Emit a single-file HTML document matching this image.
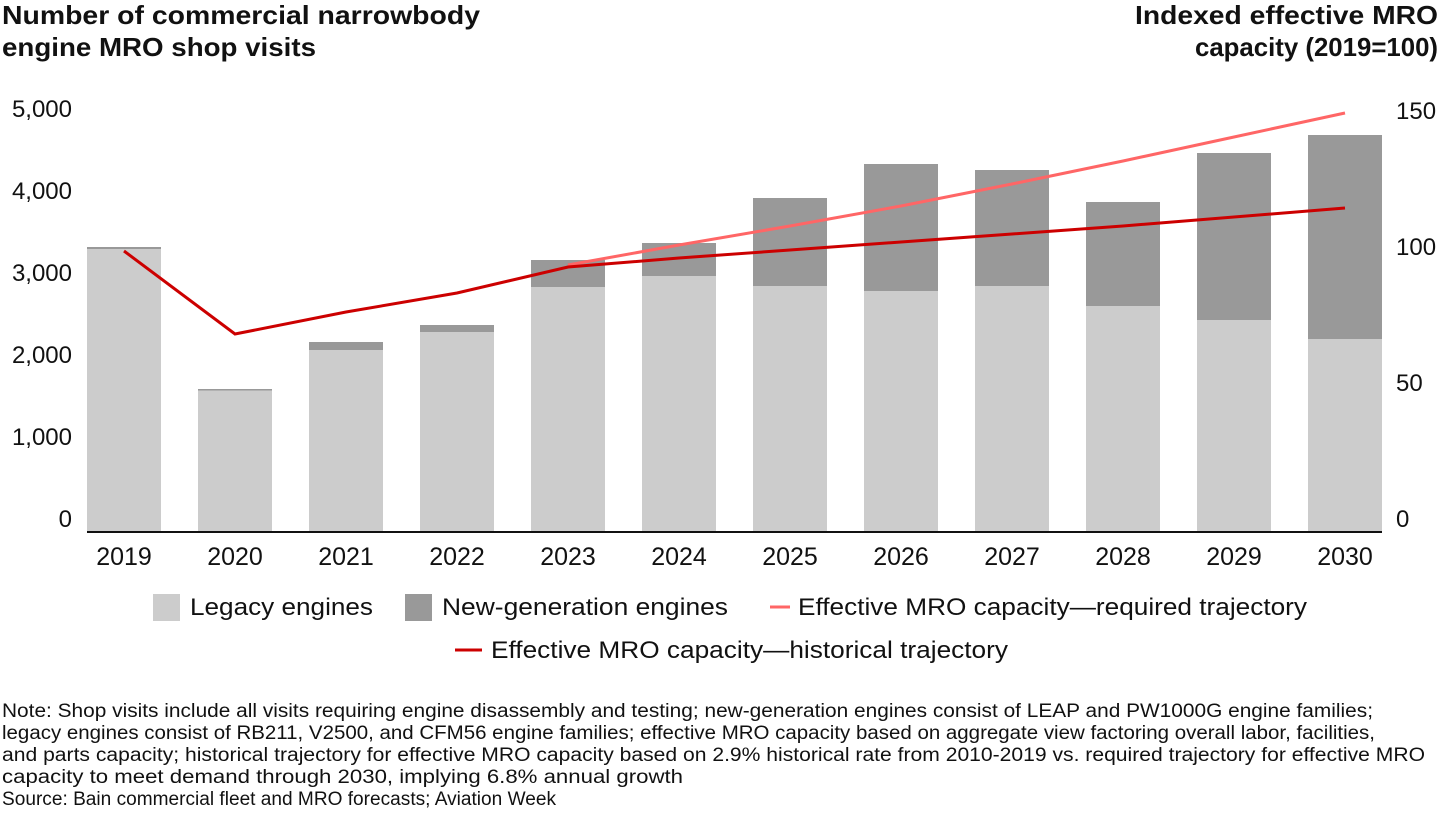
<!DOCTYPE html>
<html><head><meta charset="utf-8"><style>
body{margin:0;background:#fff;}
svg text{font-family:"Liberation Sans",sans-serif;fill:#111;}
</style></head><body>
<svg width="1440" height="810" viewBox="0 0 1440 810" xmlns="http://www.w3.org/2000/svg">
<g font-weight="bold" font-size="26">
<text x="2" y="24" textLength="478" lengthAdjust="spacingAndGlyphs">Number of commercial narrowbody</text>
<text x="2" y="56" textLength="314" lengthAdjust="spacingAndGlyphs">engine MRO shop visits</text>
<text x="1135" y="24" textLength="303" lengthAdjust="spacingAndGlyphs">Indexed effective MRO</text>
<text x="1195" y="56" textLength="243" lengthAdjust="spacingAndGlyphs">capacity (2019=100)</text>
</g>
<g font-size="24" text-anchor="end">
<text x="72" y="117">5,000</text><text x="72" y="199">4,000</text><text x="72" y="281">3,000</text>
<text x="72" y="363">2,000</text><text x="72" y="445">1,000</text><text x="72" y="527">0</text>
</g>
<g font-size="24">
<text x="1396" y="119">150</text><text x="1396" y="255">100</text><text x="1396" y="391">50</text><text x="1396" y="527">0</text>
</g>
<g id="bars">
<rect x="87" y="247" width="74" height="284" fill="#999"/><rect x="87" y="249" width="74" height="282" fill="#ccc"/>
<rect x="198" y="389" width="74" height="142" fill="#999"/><rect x="198" y="390.5" width="74" height="140.5" fill="#ccc"/>
<rect x="309" y="342" width="74" height="189" fill="#999"/><rect x="309" y="350" width="74" height="181" fill="#ccc"/>
<rect x="420" y="325" width="74" height="206" fill="#999"/><rect x="420" y="332" width="74" height="199" fill="#ccc"/>
<rect x="531" y="260" width="74" height="271" fill="#999"/><rect x="531" y="287" width="74" height="244" fill="#ccc"/>
<rect x="642" y="243" width="74" height="288" fill="#999"/><rect x="642" y="276" width="74" height="255" fill="#ccc"/>
<rect x="753" y="198" width="74" height="333" fill="#999"/><rect x="753" y="286" width="74" height="245" fill="#ccc"/>
<rect x="864" y="164" width="74" height="367" fill="#999"/><rect x="864" y="291" width="74" height="240" fill="#ccc"/>
<rect x="975" y="170" width="74" height="361" fill="#999"/><rect x="975" y="286" width="74" height="245" fill="#ccc"/>
<rect x="1086" y="202" width="74" height="329" fill="#999"/><rect x="1086" y="306" width="74" height="225" fill="#ccc"/>
<rect x="1197" y="153" width="74" height="378" fill="#999"/><rect x="1197" y="320" width="74" height="211" fill="#ccc"/>
<rect x="1308" y="135" width="74" height="396" fill="#999"/><rect x="1308" y="339" width="74" height="192" fill="#ccc"/>
</g>
<line x1="87" y1="532" x2="1382" y2="532" stroke="#111" stroke-width="2"/>
<polyline fill="none" stroke="#ff6666" stroke-width="3" points="568,265 679,245 790,226 901,206 1012,184 1123,161 1234,137 1345,113"/>
<polyline fill="none" stroke="#cc0000" stroke-width="3" points="124,251 235,334 346,312 457,293 568,267 679,258 790,250 901,242 1012,234 1123,226 1234,217 1345,208"/>
<g font-size="25" text-anchor="middle">
<text x="124" y="565">2019</text><text x="235" y="565">2020</text><text x="346" y="565">2021</text><text x="457" y="565">2022</text>
<text x="568" y="565">2023</text><text x="679" y="565">2024</text><text x="790" y="565">2025</text><text x="901" y="565">2026</text>
<text x="1012" y="565">2027</text><text x="1123" y="565">2028</text><text x="1234" y="565">2029</text><text x="1345" y="565">2030</text>
</g>
<g font-size="24">
<rect x="153" y="594" width="27" height="27" fill="#ccc"/><text x="190" y="615" textLength="183" lengthAdjust="spacingAndGlyphs">Legacy engines</text>
<rect x="405" y="594" width="27" height="27" fill="#999"/><text x="442" y="615" textLength="286" lengthAdjust="spacingAndGlyphs">New-generation engines</text>
<line x1="770" y1="607" x2="790" y2="607" stroke="#ff6666" stroke-width="3"/><text x="798" y="615" textLength="509" lengthAdjust="spacingAndGlyphs">Effective MRO capacity—required trajectory</text>
<line x1="455" y1="650" x2="482" y2="650" stroke="#cc0000" stroke-width="3"/><text x="491" y="658" textLength="517" lengthAdjust="spacingAndGlyphs">Effective MRO capacity—historical trajectory</text>
</g>
<g font-size="19">
<text x="2" y="717" textLength="1371" lengthAdjust="spacingAndGlyphs">Note: Shop visits include all visits requiring engine disassembly and testing; new-generation engines consist of LEAP and PW1000G engine families;</text>
<text x="2" y="739" textLength="1373" lengthAdjust="spacingAndGlyphs">legacy engines consist of RB211, V2500, and CFM56 engine families; effective MRO capacity based on aggregate view factoring overall labor, facilities,</text>
<text x="2" y="761" textLength="1423" lengthAdjust="spacingAndGlyphs">and parts capacity; historical trajectory for effective MRO capacity based on 2.9% historical rate from 2010-2019 vs. required trajectory for effective MRO</text>
<text x="2" y="783" textLength="681" lengthAdjust="spacingAndGlyphs">capacity to meet demand through 2030, implying 6.8% annual growth</text>
<text x="2" y="805" textLength="554" lengthAdjust="spacingAndGlyphs">Source: Bain commercial fleet and MRO forecasts; Aviation Week</text>
</g>
</svg>
</body></html>
